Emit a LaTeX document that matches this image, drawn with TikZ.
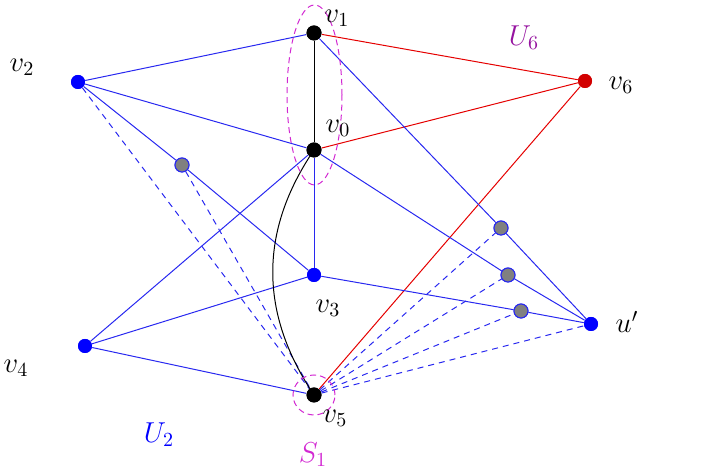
\documentclass[tikz,border=0pt]{standalone}
\usepackage{tikz}
\definecolor{myred}{RGB}{210,0,0}
\definecolor{mypurple}{RGB}{150,20,160}
\definecolor{mymag}{RGB}{210,40,210}
\definecolor{myblue}{RGB}{40,40,240}
\begin{document}
\begin{tikzpicture}[x=0.5pt,y=-0.5pt,
  dotk/.style={circle,fill=black,inner sep=0pt,minimum size=7.5pt},
  dotb/.style={circle,fill=blue,inner sep=0pt,minimum size=7pt},
  dotr/.style={circle,fill=myred,inner sep=0pt,minimum size=7pt},
  dotg/.style={circle,fill=gray,draw=myblue,line width=0.5pt,inner sep=0pt,minimum size=7pt},
  be/.style={myblue,line width=0.5pt},
  bd/.style={myblue,line width=0.5pt,dash pattern=on 3pt off 2.5pt},
  re/.style={red!90!black,line width=0.5pt},
  ke/.style={black,line width=0.5pt},
  el/.style={mymag,dash pattern=on 3pt off 2pt,line width=0.5pt},
  lab/.style={font=\fontsize{14}{16}\selectfont,inner sep=0pt}]
\useasboundingbox (0,0) rectangle (708,474);
% nodes
\node[dotk] (v1) at (314,33) {};
\node[dotk] (v0) at (314,150) {};
\node[dotb] (v2) at (78,82) {};
\node[dotr] (v6) at (585,81) {};
\node[dotg] (g1) at (182,165) {};
\node[dotb] (v3) at (314,275) {};
\node[dotb] (v4) at (85,346) {};
\node[dotk] (v5) at (314,395) {};
\node[dotb] (u) at (591,324) {};
\node[dotg] (g2) at (501,228) {};
\node[dotg] (g3) at (508,275) {};
\node[dotg] (g4) at (521,311) {};
% edges
\draw[be] (v2) -- (v1);
\draw[be] (v2) -- (v0);
\draw[be] (v2) -- (g1);
\draw[be] (g1) -- (v3);
\draw[bd] (v2) -- (v5);
\draw[bd] (g1) -- (v5);
\draw[ke] (v1) -- (v0);
\draw[re] (v1) -- (v6);
\draw[re] (v0) -- (v6);
\draw[re] (v5) -- (v6);
\draw[be] (v1) -- (g2);
\draw[be] (g2) -- (u);
\draw[be] (v0) -- (g3);
\draw[be] (g3) -- (u);
\draw[be] (v3) -- (g4);
\draw[be] (g4) -- (u);
\draw[be] (v0) -- (v3);
\draw[be] (v0) -- (v4);
\draw[be] (v4) -- (v3);
\draw[be] (v4) -- (v5);
\draw[ke] (v0.center) .. controls (259,231) and (259,313) .. (v5.center);
\draw[bd] (v5) -- (g2);
\draw[bd] (v5) -- (g3);
\draw[bd] (v5) -- (g4);
\draw[bd] (v5) -- (u);
% redraw dots on top
\node[dotk] at (v1) {};
\node[dotk] at (v0) {};
\node[dotk] at (v5) {};
\node[dotb] at (v2) {};
\node[dotb] at (v3) {};
\node[dotb] at (v4) {};
\node[dotb] at (u) {};
\node[dotr] at (v6) {};
\node[dotg] at (g1) {};
\node[dotg] at (g2) {};
\node[dotg] at (g3) {};
\node[dotg] at (g4) {};
% ellipses
\draw[el] (314.5,95) ellipse [x radius=13.75pt, y radius=45pt];
\draw[el] (314,395) ellipse [x radius=10.5pt, y radius=10pt];
% labels
\node[lab] (l1) at (337,18) {$v_1$};
\node[lab] (l0) at (338,128) {$v_0$};
\node[lab] (l2) at (22,67) {$v_2$};
\node[lab] (l6) at (621,85) {$v_6$};
\node[lab] (l3) at (328,308) {$v_3$};
\node[lab] (l4) at (16,368) {$v_4$};
\node[lab] (l5) at (335,418) {$v_5$};
\node[lab] (lu) at (627,322) {$u'$};
\node[lab,text=mypurple] (lU6) at (524,38) {$U_6$};
\node[lab,text=blue] (lU2) at (159,435) {$U_2$};
\node[lab,text=mymag] (lS1) at (313,455) {$S_1$};
\end{tikzpicture}
\end{document}
